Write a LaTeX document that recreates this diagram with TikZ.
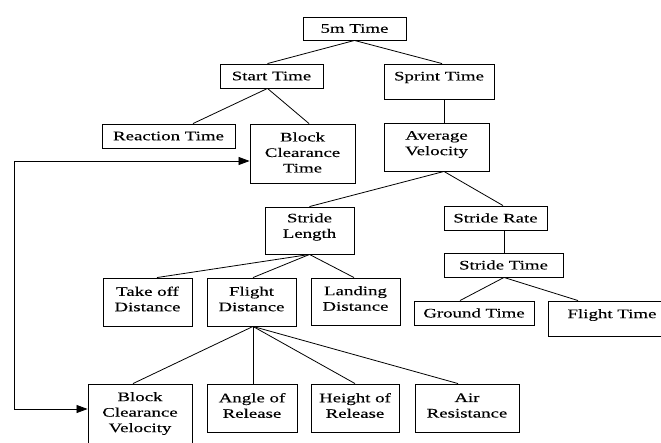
\documentclass[tikz,border=0pt]{standalone}
\usepackage{fontspec}
\setmainfont[FakeStretch=1.45,FakeBold=0.2]{Liberation Serif}
\usetikzlibrary{arrows.meta}
\begin{document}
\begin{tikzpicture}[x=1pt,y=-1pt,
  bx/.style 2 args={draw, line width=0.9pt, minimum width=#1pt, minimum height=#2pt, inner sep=0pt},
  lab/.style={font=\fontsize{13}{15.5}\selectfont, align=center, inner sep=0pt},
  link/.style={line width=0.8pt},
  fb/.style={line width=0.8pt, {Triangle[length=11pt,width=8pt]}-{Triangle[length=11pt,width=8pt]}}]
\useasboundingbox (0,0) rectangle (661,442);
\clip (0,0) rectangle (661,442);
\fill[white] (0,0) rectangle (661,442);
% boxes
\node[bx={103}{23}, label={[lab]center:5m Time}] (t5) at (354.5,28.5) {};
\node[bx={103}{24}, label={[lab]center:Start Time}] (st) at (271.5,76) {};
\node[bx={110}{35}, label={[lab,yshift=4pt]center:Sprint Time}] (sp) at (439,81.5) {};
\node[bx={133}{24}, label={[lab]center:Reaction Time}] (rt) at (168.5,136) {};
\node[bx={105}{59}, label={[lab,yshift=1pt]center:Block\\Clearance\\Time}] (bct) at (302.5,153.5) {};
\node[bx={105}{48}, label={[lab,yshift=2.5pt]center:Average\\Velocity}] (av) at (436.5,147) {};
\node[bx={89}{47}, label={[lab,yshift=3.5pt]center:Stride\\Length}] (sl) at (309.5,230.5) {};
\node[bx={103}{24}, label={[lab]center:Stride Rate}] (sr) at (495.5,218) {};
\node[bx={119}{24}, label={[lab]center:Stride Time}] (stt) at (503.5,265) {};
\node[bx={120}{24}, label={[lab]center:Ground Time}] (gt) at (474,313) {};
\node[bx={128}{35}, label={[lab,yshift=3.5pt]center:Flight Time}] (ft) at (612,318.5) {};
\node[bx={89}{48}, label={[lab,yshift=3pt]center:Take off\\Distance}] (tod) at (147.5,302) {};
\node[bx={89}{48}, label={[lab,yshift=3pt]center:Flight\\Distance}] (fd) at (251.5,302) {};
\node[bx={89}{47}, label={[lab,yshift=3pt]center:Landing\\Distance}] (ld) at (355.5,301.5) {};
\node[bx={104}{66}, label={[lab,yshift=3.5pt]center:Block\\Clearance\\Velocity}] (bcv) at (140,417) {};
\node[bx={90}{48}, label={[lab,yshift=2.5pt]center:Angle of\\Release}] (ar) at (252,408) {};
\node[bx={88}{48}, label={[lab,yshift=2.5pt]center:Height of\\Release}] (hr) at (355,408) {};
\node[bx={104}{48}, label={[lab,yshift=2.5pt]center:Air\\Resistance}] (air) at (467,408) {};
% connectors
\draw[link] (t5.south) -- ([xshift=-4]st.north);
\draw[link] (t5.south) -- ([xshift=3]sp.north);
\draw[link] ([xshift=-4]st.south) -- ([xshift=24.5]rt.north);
\draw[link] ([xshift=-4]st.south) -- ([xshift=6.5]bct.north);
\draw[link] ([xshift=5]sp.south) -- ([xshift=7.5]av.north);
\draw[link] ([xshift=7.5]av.south) -- (sl.north);
\draw[link] ([xshift=7.5]av.south) -- ([xshift=7.5]sr.north);
\draw[link] ([xshift=8.5]sr.south) -- ([xshift=0.5]stt.north);
\draw[link] ([xshift=0.5]stt.south) -- ([xshift=-14]gt.north);
\draw[link] ([xshift=0.5]stt.south) -- ([xshift=-34]ft.north);
\draw[link] (sl.south) -- ([xshift=9.5]tod.north);
\draw[link] (sl.south) -- ([xshift=1.5]fd.north);
\draw[link] (sl.south) -- ([xshift=-1.5]ld.north);
\draw[link] ([xshift=1.5]fd.south) -- ([xshift=-7]bcv.north);
\draw[link] ([xshift=1.5]fd.south) -- ([xshift=1]ar.north);
\draw[link] ([xshift=1.5]fd.south) -- (hr.north);
\draw[link] ([xshift=1.5]fd.south) -- ([xshift=-9]air.north);
% feedback arrow
\coordinate (corner) at (14,161);
\draw[fb] ([yshift=-7.5pt]bct.west) -- (corner) |- ([yshift=8pt]bcv.west);
\end{tikzpicture}
\end{document}
